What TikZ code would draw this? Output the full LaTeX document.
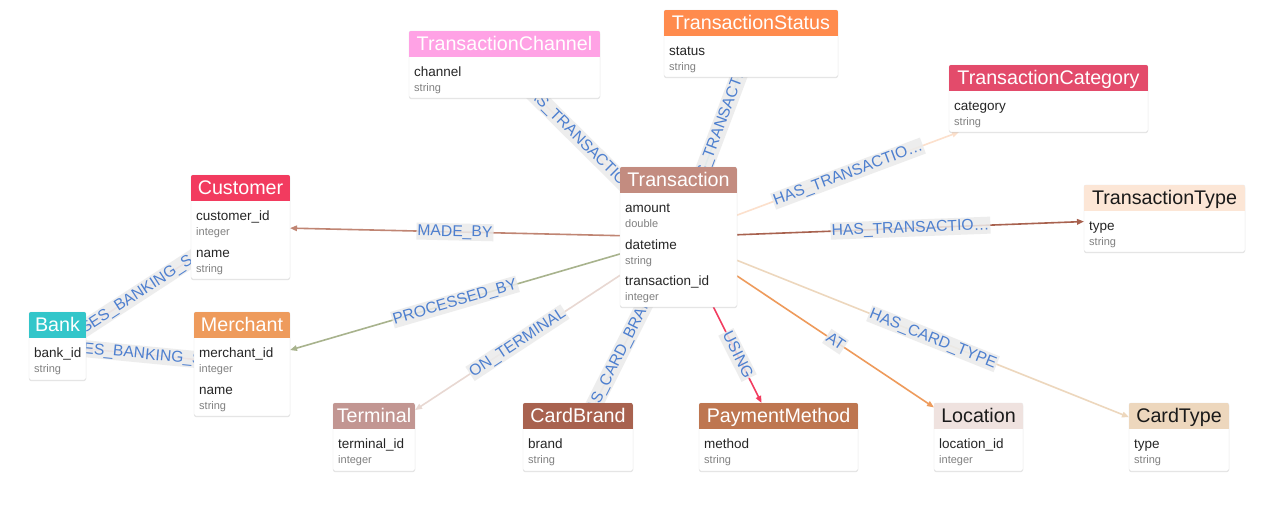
\documentclass[tikz,border=0pt]{standalone}
\usepackage{fontspec}
\setmainfont{Liberation Sans}
\usetikzlibrary{arrows.meta,calc,shadows}
\pgfdeclarelayer{edgelayer}
\pgfsetlayers{edgelayer,main}

\definecolor{hTrans}{HTML}{C38C80}
\definecolor{hCust}{HTML}{F23B5F}
\definecolor{hBank}{HTML}{33C6CA}
\definecolor{hMerch}{HTML}{EE9B5C}
\definecolor{hChan}{HTML}{FFA2E5}
\definecolor{hStat}{HTML}{FF8B4D}
\definecolor{hCat}{HTML}{E34B6B}
\definecolor{hTT}{HTML}{FCE6D6}
\definecolor{hTerm}{HTML}{C29692}
\definecolor{hBrand}{HTML}{A8624F}
\definecolor{hPay}{HTML}{BE7650}
\definecolor{hLoc}{HTML}{EFE2DF}
\definecolor{hCT}{HTML}{EDD7BD}

\definecolor{eMade}{HTML}{C08573}
\definecolor{eProc}{HTML}{A8B38D}
\definecolor{eTerm}{HTML}{E8D8D2}
\definecolor{eBrand}{HTML}{E2D2CC}
\definecolor{eUsing}{HTML}{F23B5F}
\definecolor{eAt}{HTML}{EE9B5C}
\definecolor{eCT}{HTML}{EDD7BD}
\definecolor{eTT}{HTML}{A8624F}
\definecolor{eCat}{HTML}{FCE0CC}
\definecolor{eStat}{HTML}{B5E3E3}
\definecolor{eChan}{HTML}{F5D5C5}
\definecolor{eBank}{HTML}{E8B8B8}

\definecolor{lblbg}{HTML}{EBEBEB}
\definecolor{lbltext}{HTML}{4D7FCF}
\definecolor{darktitle}{HTML}{1A1A1A}

\tikzset{
  entbox/.style={rectangle, rounded corners=2pt, fill=white, draw=black!12,
    line width=0.4pt, inner sep=0pt, outer sep=0pt, anchor=north west,
    drop shadow={shadow xshift=0pt, shadow yshift=-1pt, opacity=0.22}},
  ttl/.style={font=\fontsize{19.7}{20}\selectfont, inner sep=0pt},
  pname/.style={font=\fontsize{13.5}{14}\selectfont, text=black!85, inner sep=0pt, anchor=base west},
  ptype/.style={font=\fontsize{11}{12}\selectfont, text=black!50, inner sep=0pt, anchor=base west},
  rel/.style={line width=1.6pt, -{Triangle[length=7pt,width=5.5pt]}},
  lbl/.style={sloped, midway, fill=lblbg, fill opacity=0.85, text opacity=1,
    text=lbltext, font=\fontsize{15.7}{16}\selectfont, inner xsep=1pt,
    inner ysep=1.5pt, text height=11.5pt, text depth=2.5pt},
}

\newcommand{\entity}[8]{%
  \node[entbox, minimum width=#4pt, minimum height=#5pt] (#1) at (#2,#3) {};
  \begin{scope}
    \clip[rounded corners=2pt] (#1.north west) rectangle (#1.south east);
    \fill[#6] (#1.north west) rectangle ($(#1.north east)+(0,26)$);
  \end{scope}
  \node[ttl, text=#7, anchor=base] (#1-title) at ($(#1.north)+(0,19.5)$) {#8};
}
\newcommand{\attr}[4]{%
  \node[pname] (#1-n#2) at ($(#1.north west)+(5,{45.5+36.5*#2})$) {#3};
  \node[ptype] (#1-t#2) at ($(#1.north west)+(5,{60.5+36.5*#2})$) {#4};
}

\begin{document}
\begin{tikzpicture}[x=1pt,y=-1pt]
\useasboundingbox (0,0) rectangle (1280,504);

\entity{trans}{620}{167}{117}{140}{hTrans}{white}{Transaction}
\attr{trans}{0}{amount}{double}
\attr{trans}{1}{datetime}{string}
\attr{trans}{2}{transaction\_id}{integer}

\entity{cust}{191}{175}{99}{104}{hCust}{white}{Customer}
\attr{cust}{0}{customer\_id}{integer}
\attr{cust}{1}{name}{string}

\entity{bank}{29}{312}{57}{68}{hBank}{white}{Bank}
\attr{bank}{0}{bank\_id}{string}

\entity{merch}{194}{312}{96}{104}{hMerch}{white}{Merchant}
\attr{merch}{0}{merchant\_id}{integer}
\attr{merch}{1}{name}{string}

\entity{chan}{409}{31}{191}{67}{hChan}{white}{TransactionChannel}
\attr{chan}{0}{channel}{string}

\entity{status}{664}{10}{174}{67}{hStat}{white}{TransactionStatus}
\attr{status}{0}{status}{string}

\entity{cat}{949}{65}{199}{67}{hCat}{white}{TransactionCategory}
\attr{cat}{0}{category}{string}

\entity{ttype}{1084}{185}{161}{67}{hTT}{darktitle}{TransactionType}
\attr{ttype}{0}{type}{string}

\entity{term}{333}{403}{82}{68}{hTerm}{white}{Terminal}
\attr{term}{0}{terminal\_id}{integer}

\entity{brand}{523}{403}{110}{68}{hBrand}{white}{CardBrand}
\attr{brand}{0}{brand}{string}

\entity{pay}{699}{403}{159}{68}{hPay}{white}{PaymentMethod}
\attr{pay}{0}{method}{string}

\entity{loc}{934}{403}{89}{68}{hLoc}{darktitle}{Location}
\attr{loc}{0}{location\_id}{integer}

\entity{ctype}{1129}{403}{100}{68}{hCT}{darktitle}{CardType}
\attr{ctype}{0}{type}{string}

\begin{pgfonlayer}{edgelayer}
\fill[white] (0,0) rectangle (1280,504);
\draw[rel, eMade] (trans) -- node[lbl] (lMade) {MADE\_BY} (cust);
\draw[rel, eProc] (trans) -- node[lbl] (lProc) {PROCESSED\_BY} (merch);
\draw[rel, eTerm] (trans) -- node[lbl] (lTerm) {ON\_TERMINAL} (term);
\draw[rel, eBrand] (trans) -- node[lbl] (lBrand) {HAS\_CARD\_BRAND} (brand);
\draw[rel, eUsing] (trans) -- node[lbl] (lUsing) {USING} (pay);
\draw[rel, eAt] (trans) -- node[lbl] (lAt) {AT} (loc);
\draw[rel, eCT] (trans) -- node[lbl] (lCT) {HAS\_CARD\_TYPE} (ctype);
\draw[rel, eTT] (trans) -- node[lbl] (lTT) {HAS\_TRANSACTIO…} (ttype);
\draw[rel, eCat] (trans) -- node[lbl] (lCat) {HAS\_TRANSACTIO…} (cat);
\draw[rel, eStat] (trans) -- node[lbl] (lStat) {HAS\_TRANSACTIO…} (status);
\draw[rel, eChan] (trans) -- node[lbl] (lChan) {HAS\_TRANSACTIO…} (chan);
\draw[rel, eBank] (cust) -- node[lbl] (lBank1) {USES\_BANKING\_S…} (bank);
\draw[rel, eBank] (merch) -- node[lbl] (lBank2) {USES\_BANKING\_S…} (bank);
\end{pgfonlayer}
\end{tikzpicture}
\end{document}
